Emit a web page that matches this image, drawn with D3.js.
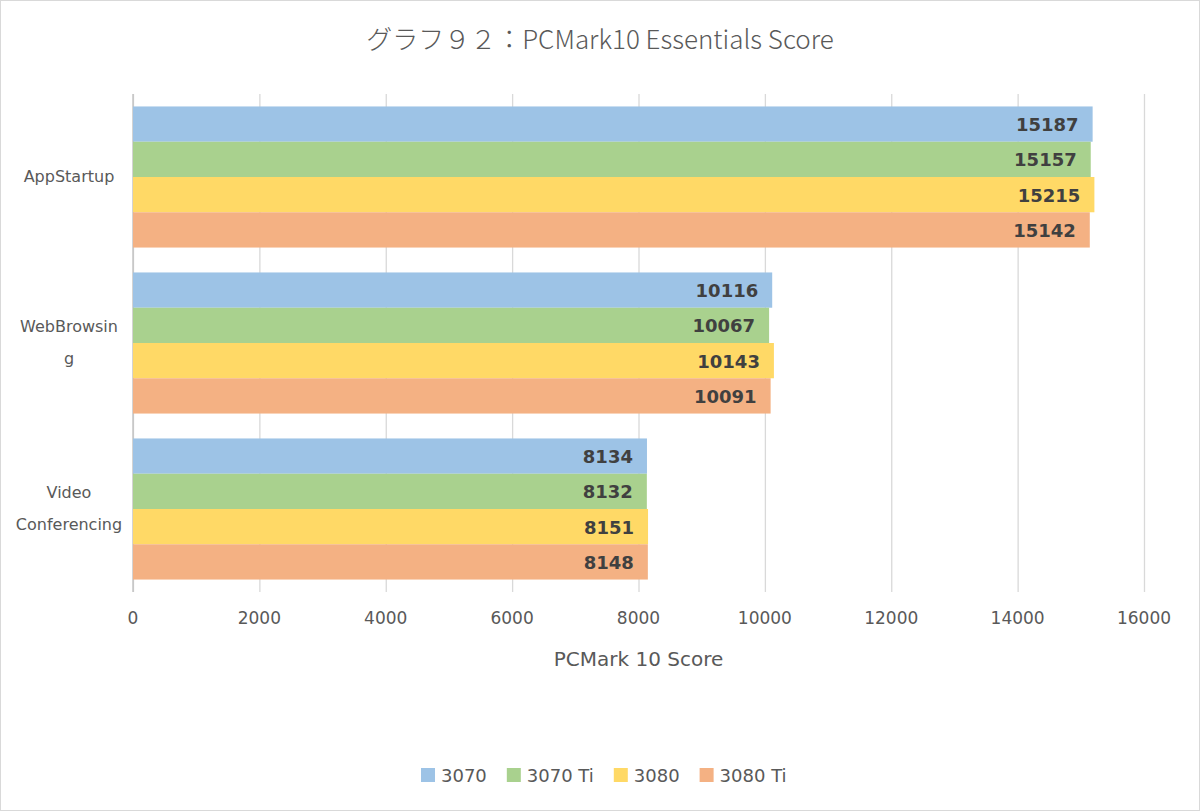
<!doctype html>
<html>
<head>
<meta charset="utf-8">
<script src="https://cdnjs.cloudflare.com/ajax/libs/d3/7.8.5/d3.min.js"></script>
<style>
  body { margin: 0; background: #fff; }
  text { font-family: "DejaVu Sans", Verdana, sans-serif; fill: #595959; }
  .title { font-family: "Noto Sans CJK JP", "DejaVu Sans", sans-serif; font-size: 26px; font-weight: 300; }
  .grid line { stroke: #d9d9d9; stroke-width: 1.3; }
  .grid path { stroke-width: 0; }
  .value { font-weight: bold; font-size: 18px; fill: #404040; }
</style>
</head>
<body>
<svg id="chart" width="1200" height="811"></svg>
<script>
const categories = ["AppStartup", "WebBrowsing", "Video Conferencing"];
const categoryLines = [["AppStartup"], ["WebBrowsin", "g"], ["Video", "Conferencing"]];
const series = ["3070", "3070 Ti", "3080", "3080 Ti"];
const colors = ["#9dc3e6", "#a9d18e", "#ffd966", "#f4b183"];
const values = [
  [15187, 15157, 15215, 15142],
  [10116, 10067, 10143, 10091],
  [8134, 8132, 8151, 8148]
];
const ticks = [0, 2000, 4000, 6000, 8000, 10000, 12000, 14000, 16000];

const svg = d3.select('#chart');

svg.append('rect')
  .attr('x', 0.5).attr('y', 0.5).attr('width', 1199).attr('height', 810)
  .attr('fill', '#fff').attr('stroke', '#d9d9d9');

svg.append('text').attr('class', 'title')
  .attr('x', 600).attr('y', 49).attr('text-anchor', 'middle')
  .text('グラフ９２：PCMark10 Essentials Score');

const plotL = 133, plotR = 1144, plotT = 94, plotB = 592;

const x = d3.scaleLinear().domain([0, 16000]).range([plotL, plotR]);
const y = d3.scaleBand().domain(categories).range([plotT, plotB]).paddingInner(0.15).paddingOuter(0.075);
const ySub = d3.scaleBand().domain(series).range([0, y.bandwidth()]);

// gridlines
svg.append('g').attr('class', 'grid')
  .attr('transform', `translate(0, ${plotT})`)
  .call(d3.axisBottom(x).tickValues(ticks).tickSize(plotB - plotT).tickFormat(''));

// category axis line
svg.append('line')
  .attr('x1', plotL).attr('x2', plotL).attr('y1', plotT).attr('y2', plotB)
  .attr('stroke', '#bfbfbf').attr('stroke-width', 1.3);

// tick labels
svg.append('g').selectAll('text')
  .data(ticks).enter().append('text')
  .attr('x', d => x(d)).attr('y', 624)
  .attr('text-anchor', 'middle')
  .style('font-size', '17px')
  .text(d => d);

svg.append('text')
  .attr('x', x(8000)).attr('y', 666).attr('text-anchor', 'middle')
  .style('font-size', '20px')
  .text('PCMark 10 Score');

// category labels
categories.forEach((c, i) => {
  const lines = categoryLines[i];
  const cy = y(c) + y.bandwidth() / 2;
  lines.forEach((ln, j) => {
    svg.append('text')
      .attr('x', 69)
      .attr('y', cy + (j - (lines.length - 1) / 2) * 32 + 5)
      .attr('text-anchor', 'middle')
      .style('font-size', '16px')
      .text(ln);
  });
});

// bars
const groups = svg.selectAll('.cat')
  .data(categories).enter().append('g')
  .attr('transform', d => `translate(0, ${y(d)})`);

groups.each(function (c, i) {
  const g = d3.select(this);
  series.forEach((s, k) => {
    const v = values[i][k];
    g.append('rect')
      .attr('x', x(0)).attr('y', ySub(s))
      .attr('width', x(v) - x(0)).attr('height', ySub.bandwidth())
      .attr('fill', colors[k]);
    g.append('text').attr('class', 'value')
      .attr('x', x(v) - 14).attr('y', ySub(s) + ySub.bandwidth() / 2 + 7)
      .attr('text-anchor', 'end')
      .text(v);
  });
});

// legend
const legend = svg.append('g');
let lx = 421;
series.forEach((s, k) => {
  legend.append('rect')
    .attr('x', lx).attr('y', 768).attr('width', 14).attr('height', 14)
    .attr('fill', colors[k]);
  const t = legend.append('text')
    .attr('x', lx + 20).attr('y', 782)
    .style('font-size', '18px')
    .text(s);
  lx += 20 + t.node().getComputedTextLength() + 20;
});
</script>
</body>
</html>
